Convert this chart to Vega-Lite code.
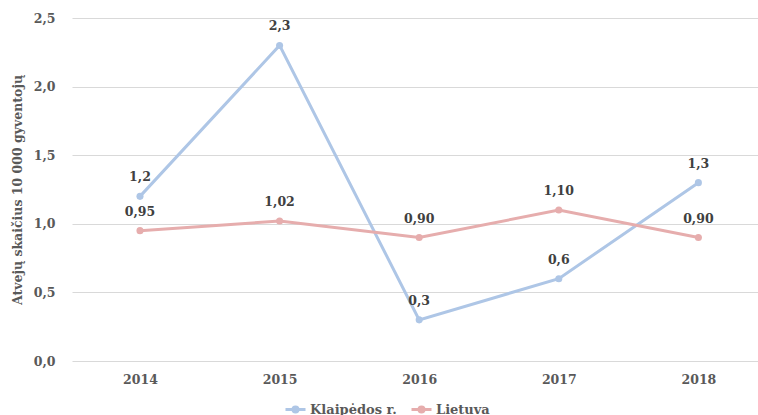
{
  "$schema": "https://vega.github.io/schema/vega-lite/v6.json",
  "width": 686,
  "height": 343,
  "autosize": {"type": "none"},
  "padding": {"left": 72, "top": 18, "right": 0, "bottom": 54},
  "background": "white",
  "config": {
    "locale": {"number": {"decimal": ",", "thousands": " ", "grouping": [3], "currency": ["", " €"]}},
    "view": {"stroke": null},
    "font": "DejaVu Serif",
    "axis": {
      "labelFont": "DejaVu Serif",
      "labelFontWeight": "bold",
      "labelColor": "#595959",
      "titleFont": "DejaVu Serif",
      "titleFontWeight": "bold",
      "titleColor": "#595959"
    },
    "legend": {
      "labelFont": "DejaVu Serif",
      "labelFontWeight": "bold",
      "labelColor": "#595959"
    }
  },
  "data": {
    "values": [
      {"metai": 2014, "vietove": "Klaipėdos r.", "reiksme": 1.2},
      {"metai": 2015, "vietove": "Klaipėdos r.", "reiksme": 2.3},
      {"metai": 2016, "vietove": "Klaipėdos r.", "reiksme": 0.3},
      {"metai": 2017, "vietove": "Klaipėdos r.", "reiksme": 0.6},
      {"metai": 2018, "vietove": "Klaipėdos r.", "reiksme": 1.3},
      {"metai": 2014, "vietove": "Lietuva", "reiksme": 0.95},
      {"metai": 2015, "vietove": "Lietuva", "reiksme": 1.02},
      {"metai": 2016, "vietove": "Lietuva", "reiksme": 0.90},
      {"metai": 2017, "vietove": "Lietuva", "reiksme": 1.10},
      {"metai": 2018, "vietove": "Lietuva", "reiksme": 0.90}
    ]
  },
  "encoding": {
    "x": {
      "field": "metai",
      "type": "quantitative",
      "scale": {"domain": [2013.513, 2018.427], "nice": false, "zero": false},
      "axis": {
        "title": null,
        "values": [2014, 2015, 2016, 2017, 2018],
        "format": "d",
        "grid": false,
        "domain": false,
        "ticks": false,
        "labelFontSize": 12.5,
        "labelPadding": 12,
        "labelFlush": false
      }
    },
    "y": {
      "field": "reiksme",
      "type": "quantitative",
      "scale": {"domain": [0, 2.5], "nice": false},
      "axis": {
        "title": "Atvejų skaičius 10 000 gyventojų",
        "titleFontSize": 12.5,
        "titlePadding": 9,
        "values": [0, 0.5, 1, 1.5, 2, 2.5],
        "format": ".1f",
        "domain": false,
        "ticks": false,
        "labelFontSize": 12.5,
        "labelPadding": 17,
        "gridColor": "#d9d9d9",
        "gridWidth": 1
      }
    },
    "color": {
      "field": "vietove",
      "type": "nominal",
      "scale": {"domain": ["Klaipėdos r.", "Lietuva"], "range": ["#aec6e6", "#e6adad"]},
      "legend": {
        "title": null,
        "orient": "none",
        "direction": "horizontal",
        "legendX": 212,
        "legendY": 380,
        "labelFontSize": 13,
        "symbolType": "M-1,0L1,0M-0.25,0A0.25,0.25 0 1,1 0.25,0A0.25,0.25 0 1,1 -0.25,0",
        "symbolSize": 400,
        "symbolStrokeWidth": 3,
        "columnPadding": 8,
        "labelOffset": 3
      }
    }
  },
  "layer": [
    {"mark": {"type": "line", "strokeWidth": 3}},
    {"mark": {"type": "point", "filled": true, "size": 50, "opacity": 1}},
    {
      "transform": [{"filter": "datum.vietove === 'Klaipėdos r.'"}],
      "mark": {"type": "text", "dy": -19, "fontSize": 12.5, "fontWeight": "bold", "font": "DejaVu Serif"},
      "encoding": {
        "text": {"field": "reiksme", "type": "quantitative", "format": ".1f"},
        "color": {"value": "#404040"}
      }
    },
    {
      "transform": [{"filter": "datum.vietove === 'Lietuva'"}],
      "mark": {"type": "text", "dy": -19, "fontSize": 12.5, "fontWeight": "bold", "font": "DejaVu Serif"},
      "encoding": {
        "text": {"field": "reiksme", "type": "quantitative", "format": ".2f"},
        "color": {"value": "#404040"}
      }
    }
  ]
}
